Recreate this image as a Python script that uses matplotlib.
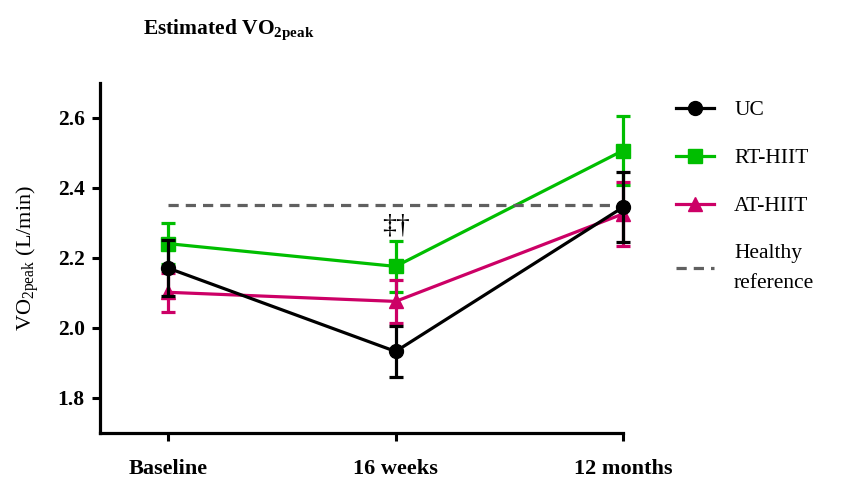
import matplotlib
matplotlib.use("Agg")
import matplotlib.pyplot as plt
import numpy as np

plt.rcParams['font.family'] = ['Liberation Serif', 'DejaVu Serif']
plt.rcParams['mathtext.fontset'] = 'custom'
plt.rcParams['mathtext.rm'] = 'Liberation Serif'
plt.rcParams['mathtext.bf'] = 'Liberation Serif:bold'

categories = ["Baseline", "16 weeks", "12 months"]
uc_mean = [2.171, 1.933, 2.345]
uc_err = [0.080, 0.074, 0.100]
rt_mean = [2.241, 2.176, 2.507]
rt_err = [0.058, 0.072, 0.098]
at_mean = [2.102, 2.076, 2.326]
at_err = [0.056, 0.062, 0.091]
healthy_ref = 2.351
annot_text = "‡†"
annot_pos = (1, 2.29)
yticks = [1.8, 2.0, 2.2, 2.4, 2.6]

GREEN = '#00BE00'
MAGENTA = '#CC0066'
GREY = '#606060'

fig = plt.figure(figsize=(8.48, 4.79), dpi=100)
x_lo, x_hi = -0.3, 2.1
px_per_unit = (623 - 100) / 2.3
ax_w_px = (x_hi - x_lo) * px_per_unit
ax = fig.add_axes([100/848, 1-433/479, ax_w_px/848, (433-83)/479])
x = np.arange(len(categories))

common = dict(lw=2.3, elinewidth=2.3, capsize=5, capthick=2.3, markersize=10)
h_rt = ax.errorbar(x, rt_mean, yerr=rt_err, color=GREEN, marker='s', zorder=3, **common)
h_at = ax.errorbar(x, at_mean, yerr=at_err, color=MAGENTA, marker='^', zorder=4, **common)
h_uc = ax.errorbar(x, uc_mean, yerr=uc_err, color='black', marker='o', zorder=5, **common)
h_ref, = ax.plot([x[0], x[-1]], [healthy_ref, healthy_ref], color=GREY, lw=2.3,
                 dashes=(3.2, 2.2), zorder=4.5)

ax.text(annot_pos[0], annot_pos[1], annot_text, ha='center', va='center', fontsize=20)

ax.set_xlim(x_lo, x_hi)
ax.set_ylim(1.7, 2.7)
ax.set_yticks(yticks)
ax.set_yticklabels([f"{v:.1f}" for v in yticks], fontweight='bold', fontsize=15.5)
ax.set_xticks(x)
ax.set_xticklabels(categories, fontweight='bold', fontsize=16)
ax.tick_params(axis='both', direction='out', length=6, width=2.2)
ax.tick_params(axis='x', pad=13)
ax.tick_params(axis='y', pad=5)
for s in ['top', 'right']:
    ax.spines[s].set_visible(False)
for s in ['left', 'bottom']:
    ax.spines[s].set_linewidth(2.3)
ax.spines['bottom'].set_bounds(x_lo, 2.0)

ax.set_ylabel(r'VO$_{\mathregular{2peak}}$ (L/min)', fontsize=16, labelpad=11)

fig.text(143/848, 1-30/479, r'Estimated VO$_{\mathbf{2peak}}$', fontsize=15.5,
         fontweight='bold', ha='left', va='center')

leg = fig.legend([h_uc.lines[0], h_rt.lines[0], h_at.lines[0], h_ref],
                 ['UC', 'RT-HIIT', 'AT-HIIT', 'Healthy\nreference'],
                 loc='upper left', bbox_to_anchor=(676/848, 1-100/479), frameon=False,
                 fontsize=15.5, handlelength=1.75, handletextpad=0.95, labelspacing=1.3,
                 borderaxespad=0, borderpad=0)
leg.get_texts()[3].set_linespacing(1.8)

fig.savefig('out.png', dpi=100)
